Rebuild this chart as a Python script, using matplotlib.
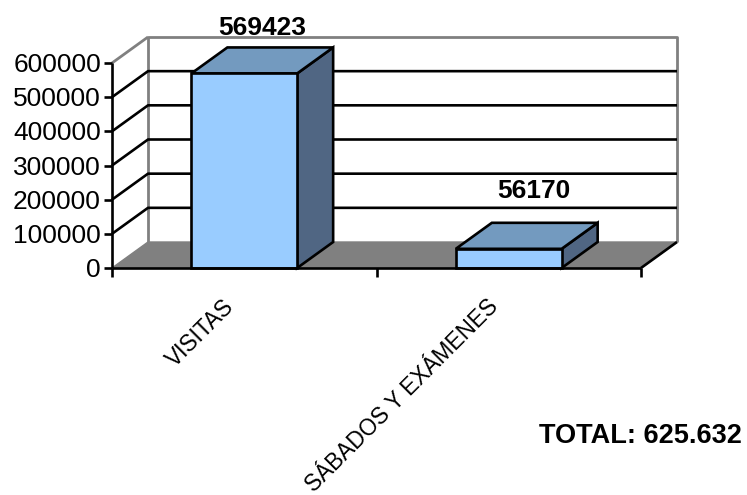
# -*- coding: utf-8 -*-
"""3D-look column chart, drawn on a flat axes with a fixed depth offset."""
import matplotlib
matplotlib.use("Agg")
import matplotlib.pyplot as plt
from matplotlib.patches import Polygon

plt.rcParams.update({"font.family": ["Liberation Sans", "DejaVu Sans"]})

categories = ["VISITAS", "SÁBADOS Y EXÁMENES"]
values = [569423, 56170]
y_ticks = [0, 100000, 200000, 300000, 400000, 500000, 600000]
total_label = "TOTAL: 625.632"

W, H = 747, 495
FRONT = "#99CCFF"
TOP = "#739ABF"
SIDE = "#506683"
FLOOR = "#808080"
LW = 1.9
FS = 19

fig = plt.figure(figsize=(W / 100, H / 100), dpi=100)
# axes = front plane of the chart, in pixels of the reference
ax = fig.add_axes([112 / W, 1 - 268 / H, 529 / W, 205 / H])
ax.set_xlim(0, 2)
ax.set_ylim(0, 600000)
ax.set_xticks([])
ax.set_yticks([])
ax.patch.set_visible(False)
for s in ax.spines.values():
    s.set_visible(False)

# depth of the box, in data units
DX = 36 / 529 * 2
DY = 26 / 205 * 600000
YMAX = 600000

# label offsets above the bar, in points (they differ in the reference)
label_dx = [0, 5]
label_dy = [5.5, 14]


def poly(pts, fc, ec="black", lw=LW, z=3):
    ax.add_patch(Polygon(pts, closed=True, facecolor=fc, edgecolor=ec,
                         linewidth=lw, zorder=z, clip_on=False, joinstyle="miter"))


def line(xs, ys, color="black", lw=LW, z=2):
    ax.plot(xs, ys, color=color, lw=lw, zorder=z, clip_on=False, solid_capstyle="butt")


# floor and walls
poly([(0, 0), (2, 0), (2 + DX, DY), (DX, DY)], FLOOR, ec=FLOOR, lw=1.0, z=1)
line([DX, DX, 2 + DX, 2 + DX], [DY, YMAX + DY, YMAX + DY, DY], color=FLOOR, lw=2.0, z=1)
line([0, DX], [YMAX, YMAX + DY], color=FLOOR, lw=2.0, z=1)
line([2, 2 + DX], [0, DY], z=2)

# gridlines run along the left wall and across the back wall
for v in y_ticks[1:-1]:
    line([0, DX, 2 + DX], [v, v + DY, v + DY])

# axes lines and ticks
line([0, 0], [0, YMAX], z=2)
line([0, 2], [0, 0], z=5)
for v in y_ticks:
    line([-8 / 529 * 2, 0], [v, v])
    ax.annotate(str(v), xy=(0, v), xytext=(-8, -1.5), textcoords="offset points",
                ha="right", va="center", fontsize=FS, annotation_clip=False)
for t in [0, 1, 2]:
    line([t, t], [0, -9 / 205 * 600000])

# bars
for i, (name, v) in enumerate(zip(categories, values)):
    x0, x1 = i + 0.3, i + 0.7
    poly([(x1, 0), (x1 + DX, DY), (x1 + DX, v + DY), (x1, v)], SIDE)
    poly([(x0, v), (x1, v), (x1 + DX, v + DY), (x0 + DX, v + DY)], TOP)
    poly([(x0, 0), (x1, 0), (x1, v), (x0, v)], FRONT, z=4)
    ax.annotate(str(v), xy=(i + 0.5 + DX / 2, v + DY), xytext=(label_dx[i], label_dy[i]),
                textcoords="offset points", ha="center", va="bottom",
                fontsize=FS, fontweight="bold", zorder=6, annotation_clip=False)
    ax.annotate(name, xy=(i + 0.5, 0), xytext=(-10, -25), textcoords="offset points",
                rotation=45, rotation_mode="anchor", ha="right", va="center",
                fontsize=16.3, annotation_clip=False)

fig.text(742 / W, 1 - 436 / H, total_label, ha="right", va="center",
         fontsize=19.5, fontweight="bold")

fig.savefig("out.png", dpi=100)
plt.close(fig)
